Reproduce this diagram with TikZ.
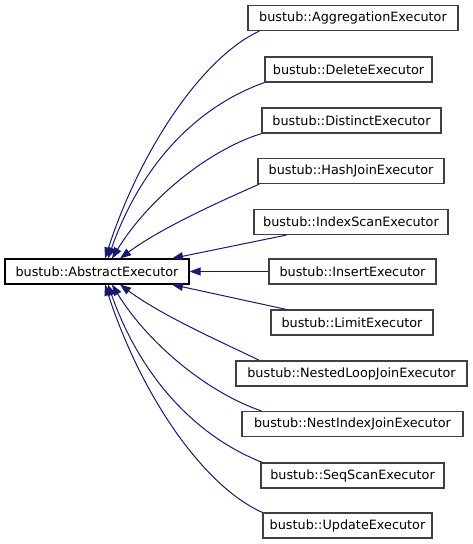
\documentclass[tikz,border=0pt]{standalone}
\usepackage{fontspec}
\setmainfont{DejaVu Sans}
\usepackage{tikz}
\usetikzlibrary{arrows.meta}
\usepackage{xcolor}
\definecolor{edgeblue}{HTML}{191970}
\definecolor{boxgray}{HTML}{404040}

\begin{document}
\begin{tikzpicture}[x=1pt,y=-1pt]
  \tikzset{classbox/.style={draw=boxgray,line width=1.1pt,fill=white,minimum height=25pt,inner sep=0pt,font=\fontsize{12.8}{14}\selectfont}}
  \tikzset{basebox/.style={classbox,draw=black}}
  \tikzset{inherit/.style={draw=edgeblue,line width=1pt,-{Triangle[length=11pt,width=8pt,fill=edgeblue]}}}

  \useasboundingbox (0,0) rectangle (473,544);

  \node[basebox,minimum width=184pt] (base) at (97,271.5) {bustub::AbstractExecutor};
  \node[classbox,minimum width=210pt] (agg) at (353,18) {bustub::AggregationExecutor};
  \node[classbox,minimum width=167pt] (delete) at (348.5,69.5) {bustub::DeleteExecutor};
  \node[classbox,minimum width=179pt] (distinct) at (351.5,120.5) {bustub::DistinctExecutor};
  \node[classbox,minimum width=186pt] (hashjoin) at (351,171) {bustub::HashJoinExecutor};
  \node[classbox,minimum width=194pt] (idxscan) at (351,222) {bustub::IndexScanExecutor};
  \node[classbox,minimum width=167pt] (insert) at (352.5,271.5) {bustub::InsertExecutor};
  \node[classbox,minimum width=162pt] (limit) at (352,322.5) {bustub::LimitExecutor};
  \node[classbox,minimum width=231pt] (nestloop) at (351.5,373.5) {bustub::NestedLoopJoinExecutor};
  \node[classbox,minimum width=221pt] (nestidx) at (352.5,424) {bustub::NestIndexJoinExecutor};
  \node[classbox,minimum width=183pt] (seqscan) at (352.5,475.5) {bustub::SeqScanExecutor};
  \node[classbox,minimum width=169pt] (update) at (347.5,525.5) {bustub::UpdateExecutor};

  \draw[inherit] ([xshift=12pt]agg.south west) .. controls (203,57) and (141,148) .. ([xshift=8pt]base.north);
  \draw[inherit] (delete.south west) .. controls (192.5,108) and (139,170) .. ([xshift=11pt]base.north);
  \draw[inherit] (distinct.south west) .. controls (206,151) and (147,201) .. ([xshift=15pt]base.north);
  \draw[inherit] ([xshift=2pt]hashjoin.south west) .. controls (235,195) and (165,225) .. ([xshift=23pt]base.north);
  \draw[inherit] ([xshift=33pt]idxscan.south west) -- ([xshift=75pt]base.north);
  \draw[inherit] (insert) -- (base);
  \draw[inherit] ([xshift=16pt]limit.north west) -- ([xshift=75pt]base.south);
  \draw[inherit] ([xshift=24pt]nestloop.north west) .. controls (235,348) and (165,318) .. ([xshift=23pt]base.south);
  \draw[inherit] ([xshift=20pt]nestidx.north west) .. controls (206,392) and (147,342) .. ([xshift=15pt]base.south);
  \draw[inherit] ([xshift=2pt]seqscan.north west) .. controls (192.5,435) and (139,373) .. ([xshift=11pt]base.south);
  \draw[inherit] (update.north west) .. controls (203,486) and (141,395) .. ([xshift=8pt]base.south);
\end{tikzpicture}
\end{document}
